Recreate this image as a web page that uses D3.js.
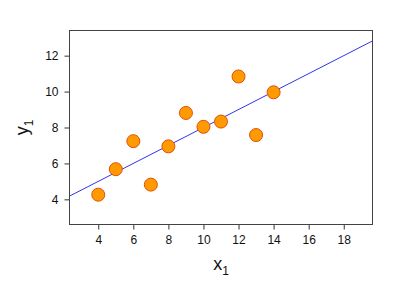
<!DOCTYPE html>
<html><head><meta charset="utf-8">
<script src="https://cdn.jsdelivr.net/npm/d3@7"></script>
<style>body{margin:0;background:#fff}svg{display:block}</style>
</head><body>
<script>
const xValues = [10, 8, 13, 9, 11, 14, 6, 4, 12, 7, 5];
const yValues = [8.04, 6.95, 7.58, 8.81, 8.33, 9.96, 7.24, 4.26, 10.84, 4.82, 5.68];
const xTicks = [4, 6, 8, 10, 12, 14, 16, 18];
const yTicks = [4, 6, 8, 10, 12];
const fit = [3, 0.5]; // intercept, slope

const W = 400, H = 289;
const L = 69.5, R = 372.5, T = 30.5, B = 224.5;
const svg = d3.select("body").append("svg").attr("width", W).attr("height", H);
const x = d3.scaleLinear().domain([2.36, 19.64]).range([L, R]);
const y = d3.scaleLinear().domain([2.6, 13.4]).range([B, T]);

svg.append("clipPath").attr("id", "c").append("rect")
  .attr("x", L).attr("y", T).attr("width", R - L).attr("height", B - T);

const font = "Liberation Sans, Arial, Helvetica, sans-serif";
const xa = svg.append("g").attr("transform", `translate(0,${B})`)
  .call(d3.axisBottom(x).tickValues(xTicks).tickSize(5).tickPadding(6).tickFormat(d3.format("d")));
xa.select(".domain").remove();
const ya = svg.append("g").attr("transform", `translate(${L},0)`)
  .call(d3.axisLeft(y).tickValues(yTicks).tickSize(5).tickPadding(6).tickFormat(d3.format("d")));
ya.select(".domain").remove();
svg.selectAll(".tick text").attr("font-family", font).attr("font-size", 12).attr("fill", "#111");
svg.selectAll(".tick line").attr("stroke", "#333");

svg.append("line").attr("clip-path", "url(#c)")
  .attr("x1", x(2.36)).attr("y1", y(fit[0] + fit[1] * 2.36))
  .attr("x2", x(19.64)).attr("y2", y(fit[0] + fit[1] * 19.64))
  .attr("stroke", "#3333ee").attr("stroke-width", 1);

svg.append("rect").attr("x", L).attr("y", T).attr("width", R - L).attr("height", B - T)
  .attr("fill", "none").attr("stroke", "#444").attr("stroke-width", 1);

svg.append("g").selectAll("circle").data(xValues).join("circle")
  .attr("cx", d => x(d)).attr("cy", (d, i) => y(yValues[i])).attr("r", 6.5)
  .attr("fill", "#ff9a00").attr("stroke", "#e0500a").attr("stroke-width", 1);

const xl = svg.append("text").attr("x", x(11)).attr("y", 270).attr("text-anchor", "middle")
  .attr("font-family", font).attr("font-size", 18).attr("fill", "#111");
xl.append("tspan").text("x");
xl.append("tspan").attr("font-size", 12).attr("dy", 5).text("1");

const yl = svg.append("text").attr("transform", `translate(28,${y(8)}) rotate(-90)`)
  .attr("text-anchor", "middle").attr("font-family", font).attr("font-size", 18).attr("fill", "#111");
yl.append("tspan").text("y");
yl.append("tspan").attr("font-size", 12).attr("dy", 5).text("1");
</script>
</body></html>
